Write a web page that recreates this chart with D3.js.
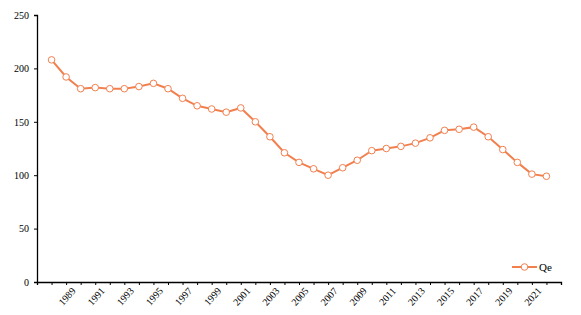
<!DOCTYPE html>
<html>
<head>
<meta charset="utf-8">
<script src="https://cdn.jsdelivr.net/npm/d3@7"></script>
<style>
  body { margin: 0; background: #fff; }
  svg text { font-family: "Liberation Serif", "DejaVu Serif", "Times New Roman", serif !important; }
</style>
</head>
<body>
<div id="chart"></div>
<script>
var years = d3.range(1988, 2023);
var qe = [208, 192, 181, 182, 181, 181, 183, 186, 181, 172, 165,
          162, 159, 163, 150, 136, 121, 112, 106, 100, 107, 114,
          123, 125, 127, 130, 135, 142, 143, 145, 136, 124, 112,
          101, 99];
var yTicks = [0, 50, 100, 150, 200, 250];
var seriesName = "Qe";

var W = 581, H = 315;
var margin = {top: 15, right: 20, bottom: 33, left: 37},
    width = W - margin.left - margin.right,
    height = H - margin.top - margin.bottom;
var col = "#f2804f";
var serif = "Liberation Serif, DejaVu Serif, serif";

var svg = d3.select("#chart").append("svg")
    .attr("width", W).attr("height", H)
  .append("g")
    .attr("transform", "translate(" + margin.left + "," + margin.top + ")");

var x = d3.scaleLinear().domain([1987, 2023]).range([0, width]);
var y = d3.scaleLinear().domain([0, 250]).range([height, 0]);

// y axis
var yAxis = svg.append("g")
    .call(d3.axisLeft(y).tickValues(yTicks).tickSize(3).tickPadding(5));
yAxis.attr("font-family", serif);
yAxis.select(".domain").attr("stroke", "#000").attr("stroke-width", 1.3);
yAxis.selectAll("text")
    .attr("font-size", 10)
    .attr("fill", "#000");

// x axis: tick every year, label odd years
var xAxis = svg.append("g")
    .attr("transform", "translate(0," + height + ")")
    .call(d3.axisBottom(x)
      .tickValues(d3.range(1987, 2024))
      .tickSize(3)
      .tickFormat(function(d) { return (d % 2 === 1 && d >= 1989 && d <= 2021) ? d : ""; }));
xAxis.attr("font-family", serif);
xAxis.select(".domain").attr("stroke", "#000").attr("stroke-width", 1.3);
xAxis.selectAll("text")
    .attr("font-size", 10)
    .attr("fill", "#000")
    .attr("text-anchor", "end")
    .attr("dx", "-0.05em")
    .attr("dy", "0.75em")
    .attr("transform", "rotate(-48)");

var line = d3.line()
    .x(function(d, i) { return x(years[i]); })
    .y(function(d) { return y(d); });

svg.append("path")
    .datum(qe)
    .attr("fill", "none")
    .attr("stroke", col)
    .attr("stroke-width", 2)
    .attr("d", line);

svg.append("g").selectAll("circle")
    .data(qe)
    .enter()
    .append("circle")
      .attr("cx", function(d, i) { return x(years[i]); })
      .attr("cy", function(d) { return y(d); })
      .attr("r", 3.3)
      .attr("fill", "#fff")
      .attr("stroke", col)
      .attr("stroke-width", 1);

// legend
var lg = svg.append("g").attr("transform", "translate(" + (512 - margin.left) + "," + (267 - margin.top) + ")");
lg.append("line").attr("x1", 0).attr("x2", 25).attr("y1", 0).attr("y2", 0)
    .attr("stroke", col).attr("stroke-width", 2);
lg.append("circle").attr("cx", 12.5).attr("cy", 0).attr("r", 3.3)
    .attr("fill", "#fff").attr("stroke", col).attr("stroke-width", 1);
lg.append("text").attr("x", 27).attr("y", 0).attr("dy", "0.35em")
    .attr("font-size", 11).text(seriesName);
</script>
</body>
</html>
